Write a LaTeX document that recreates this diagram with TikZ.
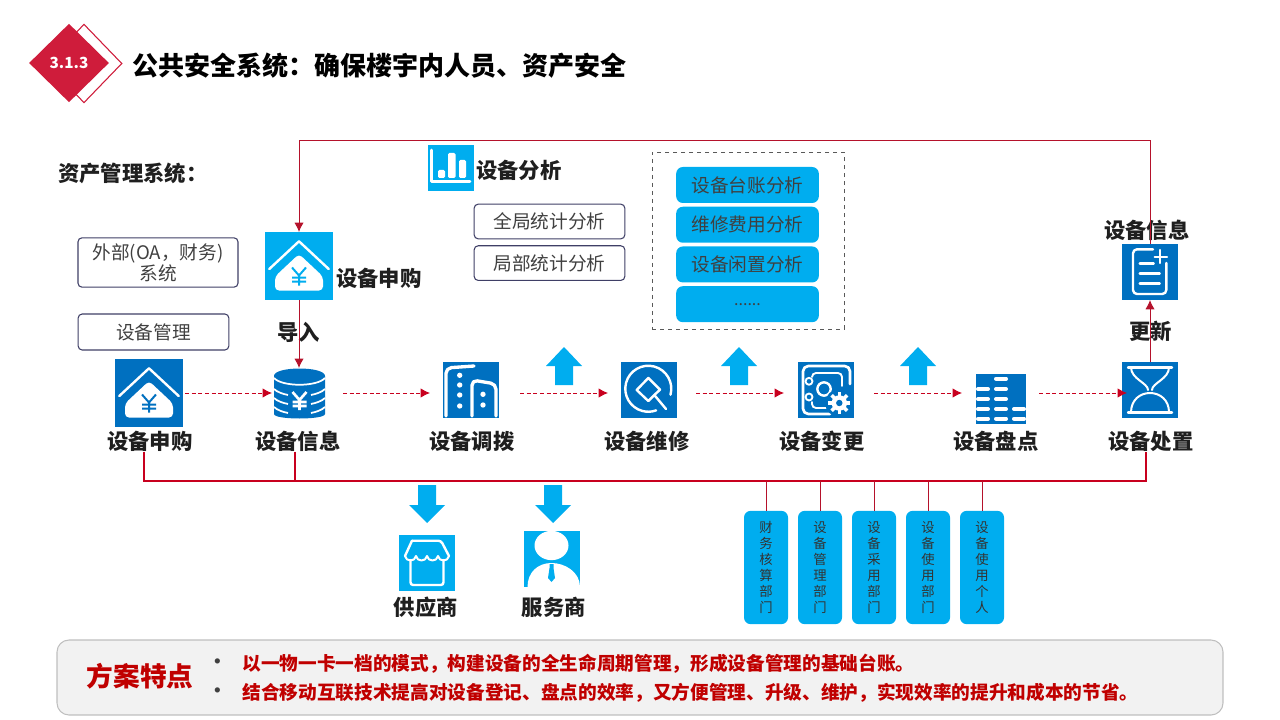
\documentclass[tikz,border=0pt]{standalone}
\usepackage{fontspec}
\setmainfont{Noto Sans CJK SC}
\usepackage{tikz}
\usetikzlibrary{arrows.meta,shapes,positioning}
\definecolor{skyfill}{HTML}{00ADEF}
\definecolor{deepfill}{HTML}{0070C0}
\definecolor{titlered}{HTML}{CF1C3B}
\definecolor{linkred}{HTML}{B5122B}
\definecolor{busred}{HTML}{C8001E}
\definecolor{boxline}{HTML}{3F3F66}
\definecolor{softtext}{HTML}{404040}
\definecolor{noticered}{HTML}{C00000}
\newcommand{\widecolon}{\symbol{"FF1A}}
\newcommand{\widecomma}{\symbol{"FF0C}}
\tikzset{
    iconbox/.style={
        rectangle,
        inner sep=0pt,
        outer sep=0pt,
        minimum size=#1,
    },
    headline/.style={
        font=\bfseries\fontsize{16}{18}\selectfont,
        text=black!88,
        inner sep=0pt,
        xshift=0.6pt,
    },
    outlinebox/.style={
        rectangle,
        rounded corners=3pt,
        draw=boxline,
        line width=0.8pt,
        align=center,
        text=softtext,
        inner sep=0pt,
        outer sep=0pt,
        font=\fontsize{14}{15.7}\selectfont,
    },
    analysisbox/.style={
        rectangle,
        rounded corners=5pt,
        fill=skyfill,
        text=softtext,
        inner sep=0pt,
        outer sep=0pt,
        minimum width=107pt,
        minimum height=27pt,
        font=\fontsize{14}{16}\selectfont,
    },
    deptbox/.style={
        rectangle,
        rounded corners=5pt,
        fill=skyfill,
        text=black!80,
        inner sep=0pt,
        outer sep=0pt,
        align=center,
        minimum width=33pt,
        minimum height=85pt,
        font=\fontsize{10}{12}\selectfont,
    },
    bluearrow/.style={
        fill=skyfill,
        draw=none,
    },
    glyph/.style={
        draw=white,
        line width=1.8pt,
        line cap=round,
        line join=round,
    },
    noticetext/.style={
        anchor=west,
        inner sep=0pt,
        text=noticered,
        font=\bfseries\fontsize{14}{16}\selectfont,
    },
    redtip/.style={
        -{Latex[length=7pt,width=7pt]},
    },
}
% yen sign: centre x, centre y, colour, line width
\newcommand{\yenglyph}[4]{
    \draw [#3, line width=#4, line cap=butt]
        (#1-7,#2-9) -- (#1,#2-1) -- (#1+7,#2-9)
        (#1,#2-1) -- (#1,#2+9)
        (#1-7,#2+1) -- (#1+7,#2+1)
        (#1-7,#2+5) -- (#1+7,#2+5);
}
% house with a yen sign, drawn on a 68 wide icon
\newcommand{\houseglyph}[2]{
    \begin{scope}[shift={(#1.north west)}]
        \draw [glyph] (4.3,37) -- (34,9.3) -- (63.7,37);
        \fill [white, rounded corners=3pt]
            (34,22) -- (58,44.5) -- (58,58.5) -- (10,58.5) -- (10,44.5) -- cycle;
        \yenglyph{34}{44.5}{#2}{1.5pt}
    \end{scope}
}

\begin{document}
\begin{tikzpicture}[
    x=0.75pt,
    y=-0.75pt,
    semithick]

\useasboundingbox (0,0) rectangle (1280,720);

% section badge
\node
[
    diamond,
    draw=titlered,
    line width=0.8pt,
    fill=white,
    inner sep=0pt,
    minimum width=57pt,
    minimum height=59pt
] (badge_back) at (84,63.5) {};
\node
[
    diamond,
    fill=titlered,
    text=white,
    inner sep=0pt,
    minimum width=60pt,
    minimum height=59pt,
    font=\bfseries\fontsize{11.5}{14}\selectfont
] (badge) at (69,63) {3.1.3};
\node
[
    anchor=west,
    inner sep=0pt,
    text=black,
    font=\bfseries\fontsize{19.5}{22}\selectfont
] (title) at (132,66) {公共安全系统\widecolon 确保楼宇内人员、资产安全};

\node [headline, anchor=west] (system_lab) at (57,173) {资产管理系统\widecolon};

% side boxes
\node
[
    outlinebox,
    minimum width=120pt,
    minimum height=37pt
] (outer_box) at (158,262.5) {外部(OA\widecomma 财务)\\系统};
\node
[
    outlinebox,
    minimum width=113pt,
    minimum height=27pt
] (manage_box) at (153.5,332) {设备管理};

% purchase icon on top
\node [iconbox=51pt, fill=skyfill] (buy_top) at (299,266) {};
\houseglyph{buy_top}{skyfill}
\node [headline] (buy_top_lab) at (378,278) {设备申购};
\node [headline] (import_lab) at (298,332) {导入};

% analysis title
\node [iconbox=34.5pt, fill=skyfill] (chart) at (451,168) {};
\begin{scope}[shift={(chart.north west)}]
    \draw [glyph, line width=2.2pt] (3.5,5) -- (3.5,36.7) -- (42,36.7);
    \fill [white, rounded corners=1pt] (10,33) rectangle (17,25);
    \fill [white, rounded corners=1pt] (20,33) rectangle (27.5,8);
    \fill [white, rounded corners=1pt] (31,33) rectangle (38,15);
\end{scope}
\node [headline] (chart_lab) at (518,170) {设备分析};

\node
[
    outlinebox,
    minimum width=113pt,
    minimum height=26pt
] (global_box) at (549.5,221.5) {全局统计分析};
\node
[
    outlinebox,
    minimum width=113pt,
    minimum height=26pt
] (local_box) [below=5.2pt of global_box] {局部统计分析};

% analysis list
\node
[
    rectangle,
    draw=black!65,
    dashed,
    thin,
    inner sep=0pt,
    minimum width=144pt,
    minimum height=132.8pt
] (list_frame) at (748,240.5) {};
\node [analysisbox] (list_1) at (747.5,185) {设备台账分析};
\node [analysisbox] (list_2) [below=2.8pt of list_1] {维修费用分析};
\node [analysisbox] (list_3) [below=2.8pt of list_2] {设备闲置分析};
\node [analysisbox, font=\fontsize{12}{14}\selectfont] (list_4) [below=2.8pt of list_3] {......};

% purchase
\node [iconbox=51pt, fill=deepfill] (buy) at (149,393) {};
\houseglyph{buy}{deepfill}
\node [headline] (buy_lab) at (149,441) {设备申购};

% information
\node [iconbox=38.25pt] (store) at (299.5,393.5) {};
\begin{scope}[shift={(store.north west)}]
    \fill [deepfill]
        (0,8) .. controls (0,-2) and (51,-2) .. (51,8)
        -- (51,46) .. controls (51,52) and (0,52) .. (0,46) -- cycle;
    \draw [glyph, line width=1.3pt, line cap=butt]
        (0,10) .. controls (8,19) and (43,19) .. (51,10)
        (0,21) .. controls (3,24) and (9,26) .. (14,27)
        (51,21) .. controls (48,24) and (42,26) .. (37,27)
        (0,30) .. controls (3,33) and (9,35) .. (14,36)
        (51,30) .. controls (48,33) and (42,35) .. (37,36)
        (0,39) .. controls (3,42) and (9,44) .. (14,45)
        (51,39) .. controls (48,42) and (42,44) .. (37,45);
    \yenglyph{25.5}{33}{white}{2pt}
\end{scope}
\node [headline] (store_lab) at (297,441) {设备信息};

% transfer
\node [iconbox=42pt, fill=deepfill] (move) at (471,390) {};
\begin{scope}[shift={(move.north west)}]
    \draw [glyph, line width=2.5pt, rounded corners=4pt] (3,54) -- (3,6) -- (31,4);
    \draw [glyph, line width=2.5pt, rounded corners=4pt] (29,54) -- (29,18) -- (53,22) -- (53,54);
    \fill [white]
        (16.7,13.3) circle [radius=2pt]
        (16.7,23) circle [radius=2pt]
        (16.7,33) circle [radius=2pt]
        (16.7,44) circle [radius=2pt]
        (40,32.3) circle [radius=2pt]
        (40,43) circle [radius=2pt];
\end{scope}
\node [headline] (move_lab) at (471,441) {设备调拨};

% repair
\node [iconbox=42pt, fill=deepfill] (repair) at (649,390) {};
\begin{scope}[shift={(repair.north west)}]
    \draw [glyph] (49.5,32.7) arc [start angle=-15, end angle=290, radius=17.25pt];
    \draw [glyph] (33.3,33) -- (27.3,39) -- (15.7,28) -- (27.3,16) -- (39,27.7) -- (33.3,33) -- (45,47);
\end{scope}
\node [headline] (repair_lab) at (646,441) {设备维修};

% change
\node [iconbox=42pt, fill=deepfill] (change) at (826,390) {};
\begin{scope}[shift={(change.north west)}]
    \draw [glyph, rounded corners=4pt, line width=2pt] (52,22) -- (52,4) -- (5,4) -- (5,52) -- (32,52);
    \draw [glyph, rounded corners=3pt, line width=1.4pt] (14,15) -- (14,11) -- (44,11) -- (44,24);
    \draw [glyph, rounded corners=3pt, line width=1.4pt] (14,40) -- (14,46) -- (28,46);
    \draw [glyph, fill=deepfill, line width=1.4pt] (11,19.3) circle [radius=2.6pt];
    \draw [glyph, fill=deepfill, line width=1.4pt] (11,35) circle [radius=2.6pt];
    \draw [glyph, line width=1.8pt] (26,27) circle [radius=5pt];
    \fill [deepfill] (41.3,41) circle [radius=10.5pt];
    \foreach \toothangle in {0,45,...,315}
    {
        \draw [white, line width=2.6pt, line cap=butt]
            (41.3,41) -- +(\toothangle:8.2pt);
    }
    \fill [white] (41.3,41) circle [radius=5.8pt];
    \fill [deepfill] (41.3,41) circle [radius=2.4pt];
\end{scope}
\node [headline] (change_lab) at (821,441) {设备变更};

% inventory
\node [iconbox=37.5pt, fill=deepfill] (count) at (1001,399) {};
\begin{scope}[shift={(count.north west)}]
    \draw [white, line width=3pt, line cap=round]
        (20,4.7) -- (30,4.7)
        (2,15) -- (12,15)
        (20,15) -- (30,15)
        (2,25) -- (12,25)
        (20,25) -- (30,25)
        (2,35) -- (12,35)
        (20,35) -- (30,35)
        (38,35) -- (48,35)
        (2,44.7) -- (12,44.7)
        (20,44.7) -- (30,44.7)
        (38,44.7) -- (48,44.7);
\end{scope}
\node [headline] (count_lab) at (995,441) {设备盘点};

% disposal
\node [iconbox=42pt, fill=deepfill] (dispose) at (1150,390) {};
\begin{scope}[shift={(dispose.north west)}]
    \draw [glyph] (6,5.3) -- (50,5.3) (6,50.3) -- (50,50.3);
    \draw [glyph, line width=1.5pt]
        (9,5.3) .. controls (9,17) and (26,21) .. (26,28)
        (47,5.3) .. controls (47,17) and (30,21) .. (30,28)
        (9,50.3) .. controls (9,38) and (18,31) .. (28,31)
        (47,50.3) .. controls (47,38) and (38,31) .. (28,31);
\end{scope}
\node [headline] (dispose_lab) at (1150,441) {设备处置};

% information sheet
\node [iconbox=42pt, fill=deepfill] (sheet) at (1150,272) {};
\begin{scope}[shift={(sheet.north west)}]
    \draw [glyph, rounded corners=3pt] (31,5.3) -- (11,5.3) -- (11,50) -- (44.3,50) -- (44.3,19);
    \draw [glyph]
        (37.7,6) -- (37.7,19)
        (32.7,12.7) -- (45,12.7)
        (17.7,19.3) -- (31.7,19.3)
        (17.7,29.3) -- (37.7,29.3)
        (17.7,39.3) -- (37.7,39.3);
\end{scope}
\node [headline] (sheet_lab) at (1146,230) {设备信息};
\node [headline] (update_lab) at (1150,331) {更新};

% blue arrows
\fill [bluearrow] (564,347) -- (582,366) -- (573,366) -- (573,385) -- (555,385) -- (555,366) -- (546,366) -- cycle;
\fill [bluearrow] (739,347) -- (757,366) -- (748,366) -- (748,385) -- (730,385) -- (730,366) -- (721,366) -- cycle;
\fill [bluearrow] (918,347) -- (936,366) -- (927,366) -- (927,385) -- (909,385) -- (909,366) -- (900,366) -- cycle;
\fill [bluearrow] (427,523) -- (445,505) -- (436,505) -- (436,485) -- (418,485) -- (418,505) -- (409,505) -- cycle;
\fill [bluearrow] (553,523) -- (571,505) -- (562,505) -- (562,485) -- (544,485) -- (544,505) -- (535,505) -- cycle;

% supplier
\node [iconbox=42pt, fill=skyfill] (supplier) at (427,563) {};
\begin{scope}[shift={(supplier.north west)}]
    \draw [glyph, rounded corners=2pt]
        (11.5,25) -- (11.5,50) -- (44.5,50) -- (44.5,25);
    \draw [glyph, rounded corners=2pt]
        (13,5.7) -- (42,5.7) -- (50,21);
    \draw [glyph, rounded corners=2pt]
        (13,5.7) -- (6,21);
    \draw [glyph, line width=1.5pt]
        (6,21) .. controls (7,27) and (16,27) .. (17,21)
        .. controls (18,27) and (27,27) .. (28,21)
        .. controls (29,27) and (38,27) .. (39,21)
        .. controls (40,27) and (49,27) .. (50,21);
\end{scope}
\node [headline] (supplier_lab) at (425,607) {供应商};

% service provider
\node [iconbox=42pt, fill=skyfill] (service) at (552,559) {};
\begin{scope}[shift={(service.north west)}]
    \fill [white] (27.5,14.5) ellipse [x radius=12.75pt, y radius=11pt];
    \fill [white]
        (3.5,56) .. controls (3.5,41) and (14,32) .. (27.5,32)
        .. controls (41,32) and (56,41) .. (56,56) -- cycle;
    \fill [skyfill]
        (25.5,33) -- (29.5,33) -- (29.5,37) -- (31,47) -- (27.5,51) -- (24,47) -- (25.5,37) -- cycle;
\end{scope}
\node [headline] (service_lab) at (553,607) {服务商};

% departments
\node [deptbox] (dept_1) at (766,567.5) {财\\务\\核\\算\\部\\门};
\node [deptbox] (dept_2) [right=7.5pt of dept_1] {设\\备\\管\\理\\部\\门};
\node [deptbox] (dept_3) [right=7.5pt of dept_2] {设\\备\\采\\用\\部\\门};
\node [deptbox] (dept_4) [right=7.5pt of dept_3] {设\\备\\使\\用\\部\\门};
\node [deptbox] (dept_5) [right=7.5pt of dept_4] {设\\备\\使\\用\\个\\人};

% bottom panel
\node
[
    rectangle,
    rounded corners=9pt,
    draw=black!25,
    fill=black!5,
    line width=0.8pt,
    inner sep=0pt,
    minimum width=874.5pt,
    minimum height=56.25pt
] (panel) at (640,677.5) {};
\node
[
    inner sep=0pt,
    text=noticered,
    font=\bfseries\fontsize{20}{22}\selectfont
] (panel_lab) at (140,676) {方案特点};
\node [noticetext, text=black!75] (dot_1) at (208,664) {•};
\node [noticetext, text=black!75] (dot_2) at (208,693) {•};
\node [noticetext] (note_1) at (242,664) {以一物一卡一档的模式\widecomma 构建设备的全生命周期管理\widecomma 形成设备管理的基础台账。};
\node [noticetext] (note_2) at (242,693) {结合移动互联技术提高对设备登记、盘点的效率\widecomma 又方便管理、升级、维护\widecomma 实现效率的提升和成本的节省。};

% Transitions
\coordinate (flow) at (0,393);
\coordinate (bus_left) at (144,481);
\coordinate (bus_mid) at (295,481);
\coordinate (bus_right) at (1146,481);
\coordinate (loop_left) at (299,141);
\coordinate (loop_right) at (1150,141);

\path [redtip, busred, line width=0.7pt, dash pattern=on 3pt off 2pt]
    (buy.east |- flow) edge [shorten <=1.5pt, shorten >=1.5pt] (store.west |- flow)
    (store.east |- flow) edge [shorten <=13.5pt, shorten >=9.75pt] (move.west |- flow)
    (move.east |- flow) edge [shorten <=15.75pt, shorten >=9.75pt] (repair.west |- flow)
    (repair.east |- flow) edge [shorten <=14.25pt, shorten >=10.5pt] (change.west |- flow)
    (change.east |- flow) edge [shorten <=15pt, shorten >=10.5pt] (count.west |- flow)
    (count.east |- flow) edge [shorten <=9.75pt, shorten >=-3.75pt] (dispose.west |- flow);

\draw [redtip, linkred, line width=0.75pt] (sheet.north) -- (loop_right) -- (loop_left) -- (buy_top.north);
\draw [redtip, linkred, line width=0.75pt] (buy_top.south) -- (store.north -| buy_top.south);
\draw [redtip, linkred, line width=0.75pt] (dispose.north) -- (sheet.south);

\draw [busred, line width=1pt]
    (buy_lab.south -| bus_left) -- (bus_left) -- (bus_right) -- (dispose_lab.south -| bus_right);
\draw [busred, line width=1pt] (store_lab.south -| bus_mid) -- (bus_mid);

\draw [linkred, thin]
    (dept_1.north) -- (dept_1.north |- bus_left)
    (dept_2.north) -- (dept_2.north |- bus_left)
    (dept_3.north) -- (dept_3.north |- bus_left)
    (dept_4.north) -- (dept_4.north |- bus_left)
    (dept_5.north) -- (dept_5.north |- bus_left);

\end{tikzpicture}
\end{document}
